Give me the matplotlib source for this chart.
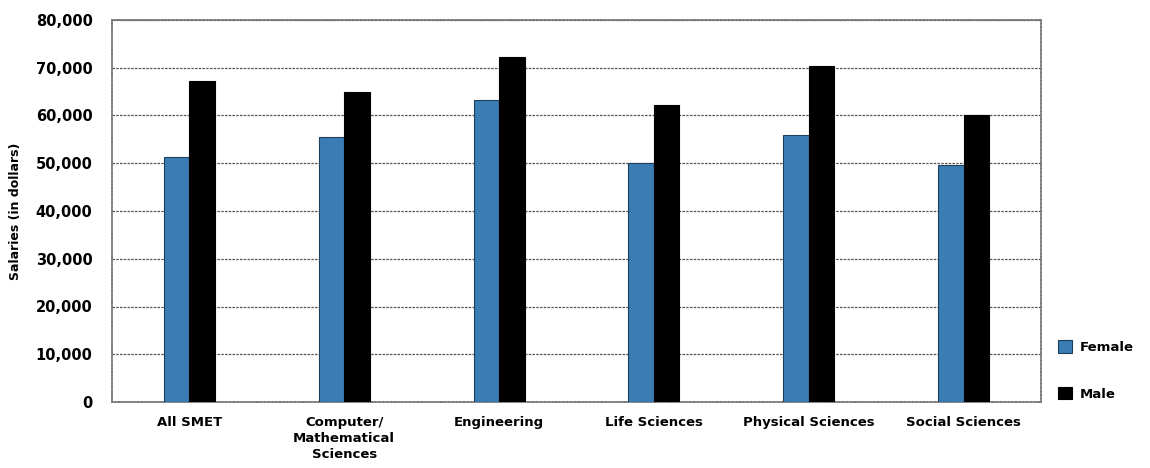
import matplotlib
matplotlib.use("Agg")
import matplotlib.pyplot as plt
import numpy as np
from matplotlib.ticker import FuncFormatter, MultipleLocator

categories = ["All SMET", "Computer/\nMathematical\nSciences", "Engineering",
              "Life Sciences", "Physical Sciences", "Social Sciences"]
female = [51300, 55500, 63200, 50000, 56000, 49700]
male = [67300, 65000, 72200, 62300, 70300, 60000]
series_names = ["Female", "Male"]

plt.rcParams['font.family'] = ['DejaVu Sans']

fig = plt.figure(figsize=(11.5, 4.68), dpi=100)
ax = fig.add_axes([112/1150, 1 - 402/468, (1041-112)/1150, (402-20)/468])

x = np.arange(len(categories))
w = 0.165
ax.bar(x - w/2, female, width=w, color="#3a7db4", edgecolor="#1d3f5a",
       linewidth=0.8, label=series_names[0], zorder=3)
ax.bar(x + w/2, male, width=w, color="black", edgecolor="black",
       linewidth=0.8, label=series_names[1], zorder=3)

ax.set_xlim(-0.5, len(categories) - 0.5)
ax.set_ylim(0, 80000)
ax.yaxis.set_major_locator(MultipleLocator(10000))
ax.yaxis.set_major_formatter(FuncFormatter(lambda v, p: f"{int(v):,}"))
ax.grid(axis="y", color="#555555", linestyle=(0, (2, 1)), linewidth=0.9, zorder=0)
ax.set_axisbelow(True)
for s in ax.spines.values():
    s.set_color("#777777")
    s.set_linestyle((0, (1.5, 0.8)))
    s.set_linewidth(1.2)

ax.set_xticks(x)
ax.set_xticklabels(categories, fontsize=9.5, fontweight="bold", linespacing=1.3,
                   va="top")
ax.tick_params(axis="x", length=0, pad=10)
ax.tick_params(axis="y", length=0, pad=14, labelsize=10.5)
for lbl in ax.get_yticklabels():
    lbl.set_fontweight("bold")

fig.text(16/1150, 1 - 211/468, "Salaries (in dollars)", rotation=90,
         ha="center", va="center", fontsize=9, fontweight="bold")

leg = ax.legend(loc="center left", bbox_to_anchor=(1.005, 0.083), frameon=False,
                handlelength=1.1, handleheight=1.1, labelspacing=2.5,
                prop={"weight": "bold", "size": 9.5}, handletextpad=0.6)

fig.savefig("out.png", dpi=100)
